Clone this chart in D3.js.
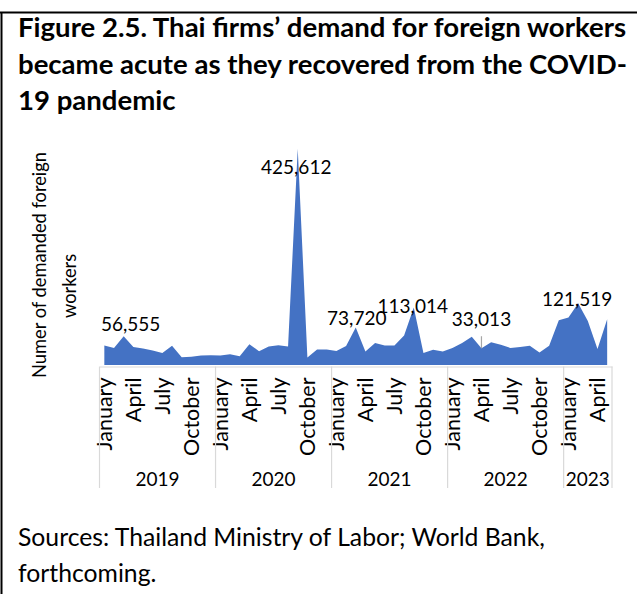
<!DOCTYPE html>
<html>
<head>
<meta charset="utf-8">
<script src="https://cdn.jsdelivr.net/npm/d3@7"></script>
<style>
  html, body { margin: 0; padding: 0; background: #fff; }
  svg { display: block; }
  text { font-family: Lato, "Open Sans", sans-serif; fill: #000; }
</style>
</head>
<body>
<svg id="chart" width="637" height="594"></svg>
<script>
// ---- data -------------------------------------------------------------
const years = ["2019", "2020", "2021", "2022", "2023"];
const monthsPerYear = [12, 12, 12, 12, 5];
const monthNames = ["January", "February", "March", "April", "May", "June",
  "July", "August", "September", "October", "November", "December"];
const shownMonths = ["January", "April", "July", "October"];

// Monthly demand for foreign workers, Jan 2019 – May 2023
const demand = [
  38600, 33400, 56555, 35400, 32600, 28600, 23400, 38000, 15400, 16000, 18600, 19400,   // 2019
  18600, 21000, 17000, 41000, 27000, 36300, 39000, 36600, 425612, 15000, 30700, 30300,  // 2020
  27600, 37300, 73720, 26600, 43400, 38600, 38600, 58000, 113014, 23400, 30000, 26600,  // 2021
  33400, 43400, 55400, 33013, 44600, 40000, 33400, 35400, 38000, 24600, 38000, 88000,   // 2022
  93400, 121519, 86600, 31400, 90000                                                     // 2023
];
// Months whose value is printed on the chart
const labelledMonths = [2, 20, 26, 32, 39, 49];

const titleLines = [
  "Figure 2.5. Thai firms’ demand for foreign workers",
  "became acute as they recovered from the COVID-",
  "19 pandemic"
];
const yTitleLines = ["Numer of demanded foreign", "workers"];
const sourceLines = ["Sources: Thailand Ministry of Labor; World Bank,", "forthcoming."];

// ---- helpers ----------------------------------------------------------
const svg = d3.select("#chart");
const W = 637, H = 594;

// Scale a text's font size so that it spans the given width
function fitWidth(sel, width) {
  sel.each(function () {
    const fs = parseFloat(this.getAttribute("font-size"));
    const len = this.getComputedTextLength();
    if (len > 0) this.setAttribute("font-size", (fs * width / len).toFixed(2));
  });
}

// ---- frame ------------------------------------------------------------
svg.append("line").attr("x1", 0).attr("x2", W).attr("y1", 12.5).attr("y2", 12.5)
  .attr("stroke", "#000").attr("stroke-width", 2);
svg.append("line").attr("x1", 1.5).attr("x2", 1.5).attr("y1", 12).attr("y2", H)
  .attr("stroke", "#000").attr("stroke-width", 2);

// ---- title ------------------------------------------------------------
const gTitle = svg.append("g");
titleLines.forEach((t, i) => {
  gTitle.append("text").attr("x", 18).attr("y", 37 + i * 36.5)
    .attr("font-size", 24).attr("font-weight", 700).text(t);
});
// one size for all lines, set by the width of the first
gTitle.select("text").call(fitWidth, 608);
gTitle.selectAll("text").attr("font-size", gTitle.select("text").attr("font-size"));

// ---- scales -----------------------------------------------------------
const n = demand.length;
const x = d3.scaleBand().domain(d3.range(n)).range([99.5, 612]).padding(0);
const cx = i => x(i) + x.bandwidth() / 2;
const baseY = 365;
const y = d3.scaleLinear().domain([0, 450000]).range([baseY, 136.4]);

// ---- area -------------------------------------------------------------
const area = d3.area()
  .x((d, i) => cx(i))
  .y0(baseY)
  .y1(d => y(d));

svg.append("path").datum(demand)
  .attr("d", area)
  .attr("fill", "#4472C4");

// ---- category axis ----------------------------------------------------
const axisY = 366.5;
const monthOf = i => {
  let k = i;
  for (let m of monthsPerYear) { if (k < m) return k; k -= m; }
  return k;
};
const tickIdx = d3.range(n).filter(i => shownMonths.includes(monthNames[monthOf(i)]));

const axis = d3.axisBottom(x)
  .tickValues(tickIdx)
  .tickFormat(i => monthNames[monthOf(i)])
  .tickSize(0)
  .tickSizeOuter(0);

const gAxis = svg.append("g")
  .attr("transform", `translate(0,${axisY})`)
  .call(axis)
  .attr("font-family", null)
  .attr("font-size", null);

gAxis.select(".domain").attr("stroke", "#D9D9D9").attr("stroke-width", 1.2);
gAxis.selectAll(".tick text")
  .attr("font-size", 21.5)
  .attr("fill", "#000")
  .attr("transform", "rotate(-90)")
  .attr("x", -11)
  .attr("y", 0)
  .attr("dy", "0.36em")
  .style("text-anchor", "end");

// year separators and labels
let start = 0;
const bounds = [];
monthsPerYear.forEach(m => { bounds.push(start); start += m; });
const edges = bounds.map(b => x(b)).concat([x.range()[1]]);

svg.append("g").selectAll("line").data(edges).join("line")
  .attr("x1", d => d).attr("x2", d => d)
  .attr("y1", axisY).attr("y2", 488)
  .attr("stroke", "#D9D9D9").attr("stroke-width", 1.2);

svg.append("g").selectAll("text").data(years).join("text")
  .attr("x", (d, i) => (edges[i] + edges[i + 1]) / 2)
  .attr("y", 486)
  .attr("font-size", 19)
  .attr("text-anchor", "middle")
  .text(d => d);

// ---- data labels ------------------------------------------------------
// placement of each printed value relative to its point
const nudge = {
  2: [7, -5],
  20: [-1.5, 25],
  26: [1, -3],
  32: [-1, 5],
  39: [0, -22],
  49: [-1, 3]
};
const fmt = d3.format(",");
const gLab = svg.append("g");
labelledMonths.forEach(i => {
  const [dx, dy] = nudge[i];
  if (i === 39) {
    gLab.append("line")
      .attr("x1", cx(i)).attr("x2", cx(i))
      .attr("y1", y(demand[i]) + dy + 10).attr("y2", y(demand[i]))
      .attr("stroke", "#A6A6A6").attr("stroke-width", 1.2);
  }
  gLab.append("text")
    .attr("x", cx(i) + dx)
    .attr("y", y(demand[i]) + dy)
    .attr("font-size", 19)
    .attr("text-anchor", "middle")
    .text(fmt(demand[i]));
});

// ---- y-axis title -----------------------------------------------------
const yTitle = svg.append("g");
yTitle.append("text")
  .attr("transform", "translate(40,265) rotate(-90)")
  .attr("text-anchor", "middle").attr("dy", "0.35em")
  .attr("font-size", 17).text(yTitleLines[0])
  .call(fitWidth, 226);
yTitle.append("text")
  .attr("transform", "translate(70,286) rotate(-90)")
  .attr("text-anchor", "middle").attr("dy", "0.35em")
  .attr("font-size", yTitle.select("text").attr("font-size"))
  .text(yTitleLines[1]);

// ---- source note ------------------------------------------------------
const src = svg.append("g");
sourceLines.forEach((t, i) => {
  src.append("text").attr("x", 18).attr("y", 546 + i * 36)
    .attr("font-size", 22).text(t);
});
src.select("text").call(fitWidth, 527);
src.selectAll("text").attr("font-size", src.select("text").attr("font-size"));
</script>
</body>
</html>
